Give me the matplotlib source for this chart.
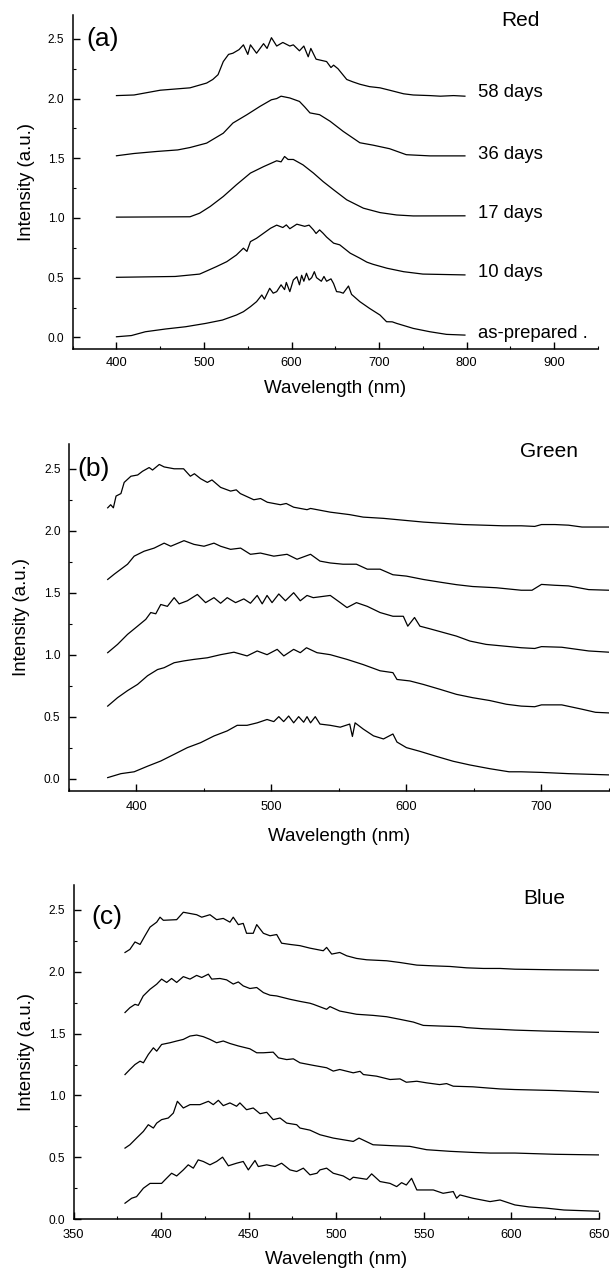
import matplotlib
matplotlib.use("Agg")
import matplotlib.pyplot as plt
from matplotlib.ticker import MultipleLocator, FormatStrFormatter

plt.rcParams['font.family'] = ['Liberation Sans', 'DejaVu Sans']

# ---------------- Panel (a) Red ----------------
a58_wl = [400, 420, 450, 484, 503, 510, 516, 522, 528, 533, 540, 545, 550, 553, 560, 568, 572, 577, 583, 590,
          598, 602, 609, 614, 619, 622, 628, 634, 640, 645, 648, 653, 663, 670, 678, 689, 701, 712, 728, 739,
          758, 770, 785, 798]
a58_i = [2.025, 2.03, 2.07, 2.09, 2.13, 2.16, 2.20, 2.31, 2.37, 2.38, 2.41, 2.45, 2.37, 2.45, 2.38, 2.46, 2.42,
         2.51, 2.44, 2.47, 2.44, 2.45, 2.40, 2.44, 2.35, 2.42, 2.33, 2.32, 2.31, 2.26, 2.28, 2.25, 2.16, 2.14,
         2.12, 2.10, 2.09, 2.07, 2.04, 2.03, 2.025, 2.02, 2.025, 2.02]
a36_wl = [400, 420, 446, 470, 484, 503, 522, 533, 549, 564, 577, 583, 588, 598, 609, 615, 621, 632, 644, 659,
          678, 693, 712, 731, 758, 798]
a36_i = [1.521, 1.54, 1.557, 1.57, 1.59, 1.627, 1.71, 1.795, 1.865, 1.935, 1.99, 2.0, 2.02, 2.005, 1.976,
         1.93, 1.88, 1.865, 1.81, 1.725, 1.63, 1.61, 1.58, 1.53, 1.52, 1.52]
a17_wl = [400, 484, 495, 507, 522, 537, 553, 568, 583, 588, 592, 596, 602, 613, 625, 636, 648, 663, 682, 701,
          720, 739, 798]
a17_i = [1.007, 1.01, 1.04, 1.096, 1.18, 1.278, 1.376, 1.43, 1.479, 1.47, 1.515, 1.49, 1.49, 1.445, 1.376,
         1.305, 1.236, 1.152, 1.082, 1.045, 1.025, 1.017, 1.018]
a10_wl = [400, 467, 495, 503, 514, 526, 537, 545, 549, 553, 560, 568, 576, 583, 590, 594, 598, 606, 615, 620,
          625, 628, 632, 636, 640, 648, 655, 667, 678, 686, 693, 709, 728, 750, 798]
a10_i = [0.503, 0.51, 0.53, 0.556, 0.592, 0.634, 0.69, 0.747, 0.72, 0.802, 0.83, 0.872, 0.914, 0.94, 0.92,
         0.942, 0.91, 0.948, 0.93, 0.94, 0.90, 0.87, 0.90, 0.872, 0.84, 0.789, 0.775, 0.705, 0.663, 0.63,
         0.612, 0.579, 0.55, 0.53, 0.523]
a00_wl = [400, 417, 433, 456, 479, 502, 521, 537, 545, 553, 560, 566, 569, 575, 579, 583, 588, 592, 594, 598,
          602, 606, 609, 611.5, 614, 617, 620, 623, 626, 628.5, 634, 637, 640, 645, 648, 651.4, 655, 659, 665,
          668.5, 678, 689, 701, 708.5, 715, 720, 739, 758, 777, 798]
a00_i = [0.005, 0.015, 0.047, 0.07, 0.089, 0.117, 0.145, 0.187, 0.215, 0.257, 0.299, 0.355, 0.32, 0.411, 0.37,
         0.383, 0.44, 0.40, 0.46, 0.383, 0.48, 0.508, 0.44, 0.52, 0.47, 0.537, 0.48, 0.50, 0.55, 0.50, 0.47,
         0.51, 0.47, 0.49, 0.45, 0.383, 0.38, 0.37, 0.43, 0.36, 0.299, 0.243, 0.187, 0.131, 0.13, 0.117,
         0.075, 0.047, 0.025, 0.019]
red_labels = ["58 days", "36 days", "17 days", "10 days", "as-prepared ."]
red_label_y = [2.052, 1.53, 1.04, 0.545, 0.036]

# ---------------- Panel (b) Green ----------------
b4_wl = [378.8, 381, 383, 385, 388.6, 391, 396, 401, 404.6, 409.5, 412, 417, 420.6, 428, 435, 440, 443, 447.6,
         452.6, 456, 462.4, 469.8, 474, 477, 487, 492, 497, 506.7, 511, 516.5, 526.4, 529, 543.6, 558, 568,
         583, 597.7, 612.5, 627, 642, 657, 671.5, 685, 695, 700, 710, 720, 730, 750]
b4_i = [2.185, 2.21, 2.185, 2.28, 2.30, 2.39, 2.44, 2.45, 2.48, 2.51, 2.49, 2.535, 2.515, 2.50, 2.50, 2.44,
        2.46, 2.42, 2.39, 2.41, 2.35, 2.32, 2.33, 2.30, 2.25, 2.26, 2.23, 2.21, 2.22, 2.19, 2.17, 2.18, 2.15,
        2.13, 2.11, 2.10, 2.085, 2.07, 2.06, 2.05, 2.045, 2.04, 2.04, 2.035, 2.05, 2.05, 2.045, 2.03, 2.03]
b3_wl = [378.8, 383.7, 388.6, 393.5, 398.4, 405.8, 413.2, 420.6, 425.5, 435.3, 442.7, 450.1, 457.5, 462.4,
         469.8, 477.2, 484.5, 491.9, 501.8, 511.6, 519, 529, 536, 543.6, 553, 563, 571, 580.5, 590, 600,
         612.5, 625, 637, 649, 666.6, 685, 693, 700, 710, 720, 735, 750]
b3_i = [1.607, 1.65, 1.69, 1.73, 1.795, 1.835, 1.86, 1.90, 1.875, 1.92, 1.89, 1.875, 1.90, 1.875, 1.85, 1.86,
        1.81, 1.82, 1.795, 1.81, 1.77, 1.81, 1.755, 1.74, 1.73, 1.73, 1.69, 1.69, 1.645, 1.634, 1.607, 1.585,
        1.565, 1.55, 1.54, 1.52, 1.52, 1.567, 1.56, 1.555, 1.525, 1.52]
b2_wl = [378.8, 386.1, 393.5, 400.9, 407, 410.7, 414.4, 418.1, 423, 428, 431.7, 437.8, 445.2, 451.3, 457.5,
         462.4, 467.3, 473.5, 479.6, 484.5, 489.5, 493.2, 496.8, 500.5, 505.5, 510.4, 516.5, 521.4, 526.4,
         531, 543.6, 551, 556, 563, 571, 580.5, 590, 597.7, 601, 606, 610, 617, 627, 637, 647, 659, 671.5,
         685, 695, 700, 715, 735, 750]
b2_i = [1.016, 1.083, 1.164, 1.23, 1.285, 1.34, 1.33, 1.405, 1.39, 1.46, 1.41, 1.435, 1.486, 1.42, 1.46, 1.415,
        1.46, 1.42, 1.45, 1.415, 1.478, 1.41, 1.478, 1.42, 1.49, 1.435, 1.50, 1.435, 1.478, 1.46, 1.478, 1.42,
        1.38, 1.42, 1.39, 1.34, 1.31, 1.31, 1.23, 1.30, 1.23, 1.21, 1.18, 1.15, 1.11, 1.083, 1.07, 1.056,
        1.05, 1.065, 1.06, 1.03, 1.02]
b1_wl = [378.8, 386.1, 393.5, 400.9, 408.3, 415.7, 420.6, 428, 435.3, 442.7, 452.6, 462.4, 472.3, 482, 489.5,
         496.8, 504.3, 509.2, 516.5, 521.4, 526, 533.8, 543.6, 556, 568, 580.5, 590, 593, 602.6, 612.5, 625,
         637, 649, 661.7, 674, 685, 695, 700, 715, 730, 740, 750]
b1_i = [0.585, 0.653, 0.71, 0.76, 0.83, 0.88, 0.895, 0.935, 0.95, 0.962, 0.975, 1.0, 1.02, 0.99, 1.03, 1.0,
        1.043, 0.99, 1.043, 1.016, 1.056, 1.016, 1.0, 0.962, 0.92, 0.87, 0.855, 0.80, 0.788, 0.76, 0.72, 0.68,
        0.653, 0.63, 0.60, 0.585, 0.58, 0.595, 0.595, 0.56, 0.535, 0.53]
b0_wl = [378.8, 388.6, 398.4, 408.3, 418.1, 428, 437.8, 447.6, 457.5, 467.3, 474.7, 482, 489.5, 496.8, 501.8,
         505.5, 509.1, 512.8, 516.5, 520.2, 523.9, 526.4, 529, 532.5, 536, 543.6, 551, 558, 560, 562, 568,
         575.6, 583, 590, 593, 600, 610, 622, 634.6, 647, 661.7, 676, 685, 700, 720, 735, 750]
b0_i = [0.008, 0.04, 0.055, 0.10, 0.142, 0.196, 0.25, 0.29, 0.344, 0.385, 0.43, 0.43, 0.45, 0.477, 0.46, 0.50,
        0.46, 0.505, 0.45, 0.50, 0.455, 0.50, 0.45, 0.50, 0.44, 0.43, 0.415, 0.44, 0.34, 0.45, 0.40, 0.345,
        0.32, 0.36, 0.295, 0.25, 0.22, 0.18, 0.14, 0.11, 0.08, 0.055, 0.055, 0.05, 0.04, 0.035, 0.03]

# ---------------- Panel (c) Blue ----------------
c4_wl = [379.4, 382.2, 385.1, 388, 390.8, 393.7, 397.5, 399.4, 401.3, 408.9, 412.7, 416.5, 420.3, 423.2, 427.9,
         431.7, 435.5, 439.3, 441.2, 444.1, 446.9, 448.8, 452.6, 454.6, 458.4, 462.2, 466, 468.8, 473.6, 479.3,
         485, 492.6, 494.5, 497.4, 502, 506, 511.6, 517.4, 528.8, 536.4, 546, 555.4, 565, 574.4, 584, 593.5,
         602, 625, 650]
c4_i = [2.155, 2.18, 2.24, 2.22, 2.29, 2.36, 2.40, 2.44, 2.415, 2.42, 2.48, 2.47, 2.46, 2.44, 2.46, 2.42, 2.43,
        2.40, 2.44, 2.38, 2.39, 2.31, 2.31, 2.38, 2.31, 2.29, 2.30, 2.23, 2.22, 2.21, 2.19, 2.169, 2.196, 2.142,
        2.155, 2.128, 2.107, 2.096, 2.088, 2.074, 2.053, 2.047, 2.042, 2.031, 2.026, 2.026, 2.02, 2.015, 2.012]
c3_wl = [379.4, 382.2, 385.1, 387, 389.8, 393.7, 397.5, 400.3, 403.2, 406, 408.9, 412.7, 416.5, 420.3, 423.2,
         427, 428.9, 433.6, 437.4, 441.2, 444.1, 446.9, 450.7, 454.6, 458.4, 462.2, 466, 473.6, 479.3, 485,
         487, 494.5, 496.4, 502, 511.6, 521, 528.8, 536.4, 544, 549.7, 559, 570.6, 574.4, 584, 593.5, 602,
         620, 635, 650]
c3_i = [1.67, 1.709, 1.736, 1.728, 1.804, 1.858, 1.899, 1.94, 1.913, 1.945, 1.913, 1.96, 1.94, 1.97, 1.953,
        1.98, 1.94, 1.945, 1.934, 1.90, 1.917, 1.885, 1.864, 1.872, 1.831, 1.81, 1.804, 1.777, 1.76, 1.745,
        1.736, 1.696, 1.718, 1.682, 1.656, 1.647, 1.636, 1.615, 1.593, 1.566, 1.561, 1.556, 1.548, 1.539,
        1.534, 1.528, 1.52, 1.515, 1.51]
c2_wl = [379.4, 382.2, 385.1, 388, 389.9, 392.7, 395.6, 397.5, 400.3, 405.1, 408.9, 412.7, 416.5, 420.3, 424.1,
         427.9, 431.7, 435.5, 439.3, 444.1, 450.7, 454.6, 458.4, 464, 467, 471.7, 475.5, 479.3, 487, 494.5,
         498.3, 502, 509.7, 513.6, 515.5, 523, 530.7, 536.4, 540, 546, 551.6, 559, 563, 566.8, 578, 586,
         593.5, 602, 625, 650]
c2_i = [1.169, 1.21, 1.25, 1.277, 1.264, 1.331, 1.385, 1.358, 1.412, 1.426, 1.44, 1.453, 1.48, 1.488, 1.475,
        1.453, 1.426, 1.44, 1.42, 1.40, 1.377, 1.345, 1.345, 1.35, 1.304, 1.29, 1.296, 1.264, 1.243, 1.224,
        1.197, 1.21, 1.183, 1.195, 1.169, 1.156, 1.129, 1.134, 1.107, 1.115, 1.102, 1.088, 1.096, 1.075,
        1.07, 1.061, 1.053, 1.048, 1.04, 1.026]
c1_wl = [379.4, 382.2, 386, 389.9, 392.7, 395.6, 397.5, 400.3, 404.1, 407, 409.3, 412.7, 416.5, 422.2, 427,
         429.8, 432.7, 435.5, 439.3, 443.1, 445, 448.8, 452.6, 456.5, 460.3, 464, 467.9, 471.7, 477.4, 479.3,
         485, 490.7, 498.3, 509.7, 513, 521, 532.6, 542, 551.6, 565, 578, 587.8, 602, 625, 650]
c1_i = [0.575, 0.602, 0.656, 0.71, 0.764, 0.737, 0.777, 0.805, 0.818, 0.858, 0.953, 0.899, 0.926, 0.926, 0.953,
        0.926, 0.961, 0.918, 0.94, 0.913, 0.94, 0.885, 0.899, 0.853, 0.864, 0.805, 0.818, 0.777, 0.764, 0.737,
        0.72, 0.683, 0.656, 0.629, 0.656, 0.602, 0.594, 0.589, 0.562, 0.549, 0.54, 0.535, 0.535, 0.525, 0.52]
c0_wl = [379.4, 383.2, 386, 389.9, 393.7, 400.3, 402.2, 406, 408.9, 412.7, 415.5, 418.4, 421.2, 424.1, 427.9,
         431.7, 435.1, 438.4, 443.1, 446.9, 449.8, 453.6, 455.5, 460.3, 465, 468.8, 473.6, 477.4, 481.2, 485,
         489, 490.7, 494.5, 498.3, 504, 507.8, 509.7, 517.4, 520.2, 525, 530.7, 534.5, 537.3, 540, 543, 546,
         551.6, 555.4, 561, 566.8, 568.7, 570.6, 578, 587.8, 593.5, 602, 610, 620, 630, 640, 650]
c0_i = [0.13, 0.17, 0.183, 0.251, 0.29, 0.29, 0.318, 0.372, 0.35, 0.399, 0.44, 0.413, 0.48, 0.467, 0.44, 0.467,
        0.502, 0.432, 0.453, 0.467, 0.399, 0.475, 0.426, 0.44, 0.426, 0.453, 0.399, 0.386, 0.413, 0.359, 0.372,
        0.399, 0.413, 0.372, 0.35, 0.318, 0.34, 0.323, 0.367, 0.305, 0.29, 0.264, 0.296, 0.277, 0.331, 0.237,
        0.237, 0.237, 0.21, 0.224, 0.17, 0.197, 0.17, 0.143, 0.156, 0.116, 0.10, 0.09, 0.075, 0.07, 0.065]

W, H = 610, 1270
fig = plt.figure(figsize=(W / 100, H / 100), dpi=100)

def style(ax, xlim, ylim, xmaj, xmin, labelpad_x, xpad, ylabelpad):
    ax.set_xlim(*xlim)
    ax.set_ylim(*ylim)
    for s in ("top", "right"):
        ax.spines[s].set_visible(False)
    for s in ("left", "bottom"):
        ax.spines[s].set_linewidth(1.1)
    ax.xaxis.set_major_locator(MultipleLocator(xmaj))
    ax.xaxis.set_minor_locator(MultipleLocator(xmin))
    ax.yaxis.set_major_locator(MultipleLocator(0.5))
    ax.yaxis.set_minor_locator(MultipleLocator(0.25))
    ax.yaxis.set_major_formatter(FormatStrFormatter('%.1f'))
    ax.tick_params(which='major', direction='in', length=5, width=1.0)
    ax.tick_params(which='minor', direction='in', length=2.5, width=0.8)
    ax.tick_params(axis='y', which='major', pad=6, labelsize=8.6)
    ax.tick_params(axis='x', which='major', pad=xpad, labelsize=9.3)
    ax.set_xlabel("Wavelength (nm)", fontsize=13.5, labelpad=labelpad_x)
    ax.set_ylabel("Intensity (a.u.)", fontsize=13.4, labelpad=ylabelpad)

lw = 0.9
# Panel a
axa = fig.add_axes([72.7 / W, 1 - 349.3 / H, (598 - 72.7) / W, (349.3 - 15) / H])
for wl, it in [(a58_wl, a58_i), (a36_wl, a36_i), (a17_wl, a17_i), (a10_wl, a10_i), (a00_wl, a00_i)]:
    axa.plot(wl, it, color='black', lw=lw)
style(axa, (350, 950), (-0.1, 2.7), 100, 50, 8, 5.5, 9.5)
axa.yaxis.set_ticks([0.0, 0.5, 1.0, 1.5, 2.0, 2.5])
axa.set_xticks([400, 500, 600, 700, 800, 900])
axa.text(366, 2.5, "(a)", fontsize=19, va='center', ha='left')
axa.text(840, 2.656, "Red", fontsize=15, va='center', ha='left')
for lab, y in zip(red_labels, red_label_y):
    axa.text(813, y, lab, fontsize=13.3, va='center', ha='left')

# Panel b
axb = fig.add_axes([68.8 / W, 1 - 791 / H, (609 - 68.8) / W, (791 - 444) / H])
for wl, it in [(b4_wl, b4_i), (b3_wl, b3_i), (b2_wl, b2_i), (b1_wl, b1_i), (b0_wl, b0_i)]:
    axb.plot(wl, it, color='black', lw=lw)
style(axb, (350, 750), (-0.1, 2.7), 100, 50, 11, 7, 10)
axb.yaxis.set_ticks([0.0, 0.5, 1.0, 1.5, 2.0, 2.5])
axb.set_xticks([400, 500, 600, 700])
axb.text(356, 2.5, "(b)", fontsize=19, va='center', ha='left')
axb.text(684, 2.64, "Green", fontsize=15, va='center', ha='left')

# Panel c
axc = fig.add_axes([73.5 / W, 1 - 1219.3 / H, (599 - 73.5) / W, (1219.3 - 885) / H])
for wl, it in [(c4_wl, c4_i), (c3_wl, c3_i), (c2_wl, c2_i), (c1_wl, c1_i), (c0_wl, c0_i)]:
    axc.plot(wl, it, color='black', lw=lw)
style(axc, (350, 650), (0.0, 2.7), 50, 25, 7, 7, 9.5)
axc.yaxis.set_ticks([0.0, 0.5, 1.0, 1.5, 2.0, 2.5])
axc.text(360, 2.44, "(c)", fontsize=19, va='center', ha='left')
axc.text(607, 2.59, "Blue", fontsize=15, va='center', ha='left')

fig.savefig("out.png", dpi=100)
